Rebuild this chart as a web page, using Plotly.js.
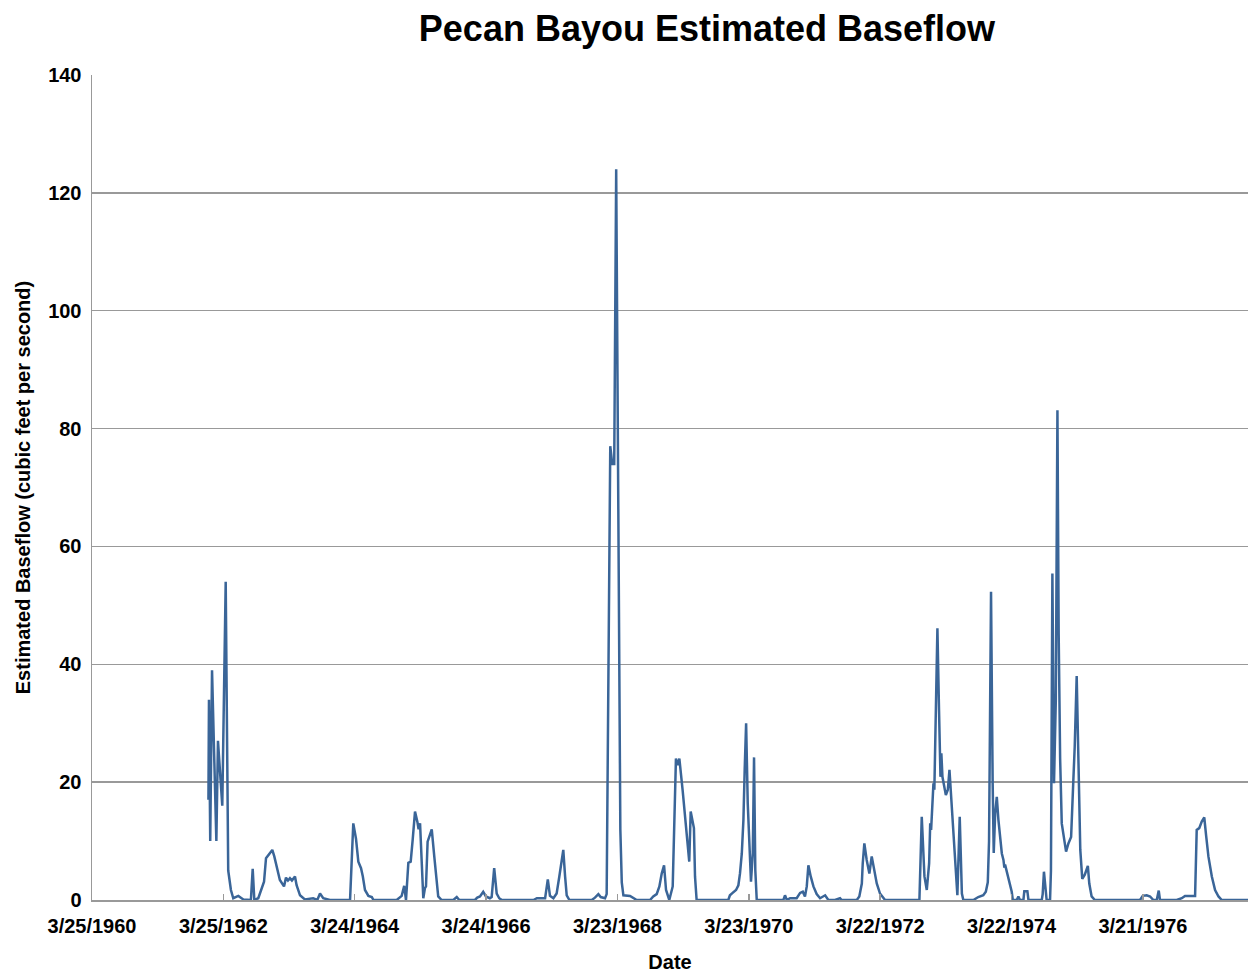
<!DOCTYPE html>
<html>
<head>
<meta charset="utf-8">
<script src="https://cdn.plot.ly/plotly-3.0.1.min.js"></script>
<style>
  html, body { margin: 0; padding: 0; background: #ffffff; }
  #chart { width: 1249px; height: 973px; }
</style>
</head>
<body>
<div id="chart"></div>
<script>
// Dates of the estimated baseflow readings
const dates = [
  "1962-01-01","1962-01-04","1962-01-11","1962-01-21","1962-02-14","1962-02-23","1962-03-19","1962-04-07",
  "1962-04-21","1962-05-06","1962-05-19","1962-06-16","1962-07-14","1962-08-25","1962-09-04","1962-09-13",
  "1962-10-05","1962-10-29","1962-11-06","1962-11-17","1962-12-09","1962-12-22",
  "1963-01-02","1963-01-19","1963-02-02","1963-02-25","1963-03-08","1963-03-19","1963-03-30","1963-04-10",
  "1963-04-27","1963-05-06","1963-05-25","1963-06-21","1963-08-06","1963-08-29","1963-09-13","1963-10-01",
  "1963-11-07",
  "1964-02-27","1964-03-16","1964-03-31","1964-04-13","1964-04-28","1964-05-08","1964-05-20","1964-06-08",
  "1964-06-27","1964-07-06","1964-11-12","1964-12-10","1964-12-24",
  "1965-01-03","1965-01-16","1965-01-29","1965-02-09","1965-02-22","1965-03-07","1965-03-14","1965-03-22",
  "1965-03-31","1965-04-09","1965-04-18","1965-04-24","1965-05-03","1965-05-12","1965-05-26","1965-06-09",
  "1965-06-22","1965-07-01","1965-07-20","1965-09-23","1965-10-12","1965-10-26",
  "1966-01-21","1966-02-03","1966-02-18","1966-03-08","1966-03-23","1966-04-14","1966-04-24","1966-05-08",
  "1966-05-22","1966-06-05","1966-06-20","1966-12-12","1966-12-31",
  "1967-02-15","1967-03-02","1967-03-14","1967-04-02","1967-04-20","1967-05-05","1967-05-18","1967-05-27",
  "1967-06-06","1967-06-15","1967-06-30","1967-11-01","1967-11-19","1967-12-08","1967-12-21",
  "1968-01-14","1968-01-23","1968-02-12","1968-02-23","1968-03-05","1968-03-16","1968-03-28","1968-04-08",
  "1968-04-16","1968-04-25","1968-06-01","1968-06-19","1968-07-08","1968-09-20","1968-10-08","1968-10-27",
  "1968-11-11","1968-11-24","1968-12-07","1968-12-18",
  "1969-01-05","1969-01-24","1969-02-11","1969-02-21","1969-03-02","1969-03-20","1969-04-08","1969-04-26",
  "1969-05-04","1969-05-11","1969-05-22","1969-05-28","1969-06-06","1969-11-29","1969-12-08","1969-12-23",
  "1970-01-11","1970-01-24","1970-02-02","1970-02-12","1970-02-21","1970-02-28","1970-03-08","1970-03-17",
  "1970-03-26","1970-04-04","1970-04-14","1970-04-21","1970-04-28","1970-05-06","1970-10-01","1970-10-10",
  "1970-10-20","1970-11-07","1970-12-14",
  "1971-01-02","1971-01-17","1971-01-29","1971-02-08","1971-02-17","1971-03-02","1971-03-17","1971-04-04",
  "1971-04-23","1971-05-21","1971-06-08","1971-07-15","1971-08-12","1971-08-21","1971-11-13","1971-11-27",
  "1971-12-11","1971-12-16","1971-12-25",
  "1972-01-07","1972-01-22","1972-02-04","1972-02-13","1972-03-03","1972-03-21","1972-04-18","1972-10-26",
  "1972-11-08","1972-11-23","1972-12-06","1972-12-19","1972-12-25","1972-12-30",
  "1973-01-12","1973-01-17","1973-01-25","1973-02-03","1973-02-12","1973-02-20","1973-02-25","1973-03-03",
  "1973-03-22","1973-04-02","1973-04-11","1973-04-24","1973-05-07","1973-05-18","1973-05-25","1973-06-07",
  "1973-06-19","1973-06-27","1973-08-22","1973-09-18","1973-10-16","1973-10-30","1973-11-10","1973-11-17",
  "1973-11-28","1973-12-07","1973-12-13","1973-12-21","1973-12-30",
  "1974-01-08","1974-01-17","1974-01-27","1974-02-05","1974-02-10","1974-02-14","1974-02-23","1974-03-04",
  "1974-03-14","1974-03-23","1974-03-29","1974-04-20","1974-04-29","1974-05-08","1974-05-27","1974-06-01",
  "1974-06-18","1974-06-24","1974-09-06","1974-09-11","1974-09-18","1974-09-27","1974-10-03","1974-10-22",
  "1974-10-27","1974-11-04","1974-11-13","1974-11-23","1974-12-02","1974-12-09","1974-12-17","1974-12-26",
  "1975-01-08","1975-01-19","1975-02-01","1975-02-16","1975-02-28","1975-03-08","1975-03-19","1975-03-28",
  "1975-04-08","1975-04-19","1975-05-03","1975-05-20","1975-05-28","1975-06-10","1975-06-28",
  "1976-03-05","1976-03-20","1976-04-11","1976-04-30","1976-05-18","1976-06-06","1976-06-17","1976-06-24",
  "1976-09-25","1976-10-23","1976-11-10","1976-12-08",
  "1977-01-05","1977-01-14","1977-01-28","1977-02-11","1977-02-25","1977-03-07","1977-03-20","1977-04-08",
  "1977-04-26","1977-05-15","1977-06-02","1977-10-27"
];

// Estimated baseflow (cubic feet per second)
const baseflow = [
  17, 34, 10, 39, 10, 27, 16, 54,
  5, 1.7, 0.3, 0.7, 0.1, 0, 5.3, 0,
  0.3, 2.3, 3.1, 7.1, 7.9, 8.5,
  7.4, 5.1, 3.4, 2.3, 3.8, 3.3, 3.7, 3.3,
  4, 2.5, 0.8, 0.1, 0.3, 0, 1.1, 0.3,
  0,
  0, 13, 10.4, 6.5, 5.4, 4, 1.7, 0.7,
  0.5, 0, 0, 0.7, 2.4,
  0, 6.3, 6.5, 10.2, 15, 13.3, 12, 13,
  5.7, 0.3, 2, 2.3, 9.9, 10.7, 12, 7.4,
  3.7, 0.6, 0, 0, 0.5, 0,
  0, 0.4, 0.6, 1.4, 0.6, 0.3, 0.5, 5.4,
  1.1, 0.3, 0, 0, 0.3,
  0.3, 3.5, 0.7, 0.3, 1.1, 4, 6.5, 8.5,
  4, 0.8, 0, 0, 0.4, 1, 0.5,
  0.3, 1, 77, 74, 74, 124, 55, 12,
  3, 0.8, 0.7, 0.3, 0, 0, 0.6, 1,
  2.3, 4.5, 5.9, 1.7,
  0, 2.3, 24, 22.9, 24, 18.7, 11.9, 6.5,
  15, 14.1, 12.2, 4, 0, 0, 0.8, 1.2,
  1.7, 2.5, 4.5, 7.9, 13.6, 22.1, 30, 16.4,
  7.9, 3.1, 7.9, 24.2, 5.1, 0, 0, 0.8,
  0, 0.3, 0.3,
  1.2, 1.4, 0.6, 2.3, 5.9, 4, 2.3, 1,
  0.3, 0.8, 0, 0, 0.3, 0, 0, 0.6,
  2.8, 6.2, 9.6,
  6.8, 4.5, 7.4, 5.7, 2.8, 1.1, 0, 0,
  14.1, 4, 1.7, 6.2, 13, 11.9,
  19.8, 18.7, 32.2, 46.1, 32.2, 20.9, 24.9, 20.9,
  17.8, 18.7, 22.1, 15.3, 9.6, 2.3, 0.8, 14.1,
  1.1, 0, 0, 0.5, 0.8, 1.4, 3, 10,
  52.3, 20, 8, 14.7, 17.5,
  13.6, 10.2, 7.9, 6.8, 5.5, 6, 4.8, 3.7,
  2.8, 1.4, 0, 0, 0.6, 0, 0, 1.5,
  1.5, 0, 0, 1, 4.8, 1, 0, 0,
  5, 55.4, 19.8, 33.9, 83.1, 45, 24, 13,
  10.2, 8.2, 9.6, 10.7, 20, 26, 38, 24,
  8.5, 3.6, 4.3, 5.8, 2.8, 0.6, 0,
  0, 0.7, 0.8, 0.6, 0, 0, 1.6, 0,
  0, 0.3, 0.7, 0.7,
  0.7, 11.9, 12.2, 13.3, 14, 11, 7.4, 4,
  1.7, 0.6, 0, 0
];

// X axis tick positions and labels (every 730 days)
const tickDates = ["1960-03-25","1962-03-25","1964-03-24","1966-03-24","1968-03-23",
                   "1970-03-23","1972-03-22","1974-03-22","1976-03-21"];
const tickLabels = ["3/25/1960","3/25/1962","3/24/1964","3/24/1966","3/23/1968",
                    "3/23/1970","3/22/1972","3/22/1974","3/21/1976"];

const FONT = "Liberation Sans, Arial, sans-serif";

const trace = {
  x: dates,
  y: baseflow,
  type: "scatter",
  mode: "lines",
  line: { color: "#3a6598", width: 2.5 },
  hoverinfo: "x+y"
};

const layout = {
  width: 1249,
  height: 973,
  paper_bgcolor: "#ffffff",
  plot_bgcolor: "#ffffff",
  margin: { l: 92, r: 1, t: 75, b: 73 },
  showlegend: false,
  title: {
    text: "<b>Pecan Bayou Estimated Baseflow</b>",
    font: { family: FONT, size: 36, color: "#000000" },
    x: 0.566, xanchor: "center",
    y: 0.971, yanchor: "middle"
  },
  xaxis: {
    type: "date",
    range: ["1960-03-25", "1977-10-26"],
    tickmode: "array",
    tickvals: tickDates,
    ticktext: tickLabels,
    ticks: "inside",
    ticklen: 6,
    tickwidth: 1.5,
    tickcolor: "#999999",
    showgrid: false,
    showline: true,
    linecolor: "#999999",
    linewidth: 1.5,
    zeroline: false,
    tickfont: { family: FONT, size: 20, color: "#000000", weight: "bold" },
    ticklabelstandoff: 7,
    title: {
      text: "<b>Date</b>",
      font: { family: FONT, size: 20, color: "#000000" },
      standoff: 20
    }
  },
  yaxis: {
    range: [0, 140],
    tickmode: "linear",
    tick0: 0,
    dtick: 20,
    ticks: "",
    showgrid: true,
    gridcolor: "#999999",
    gridwidth: 1.5,
    showline: true,
    linecolor: "#999999",
    linewidth: 1.5,
    zeroline: false,
    tickfont: { family: FONT, size: 20, color: "#000000", weight: "bold" },
    ticklabelstandoff: 5,
    title: {
      text: "<b>Estimated Baseflow (cubic feet per second)</b>",
      font: { family: FONT, size: 20, color: "#000000" },
      standoff: 12
    }
  }
};

Plotly.newPlot("chart", [trace], layout, { displayModeBar: false, staticPlot: true });
</script>
</body>
</html>
